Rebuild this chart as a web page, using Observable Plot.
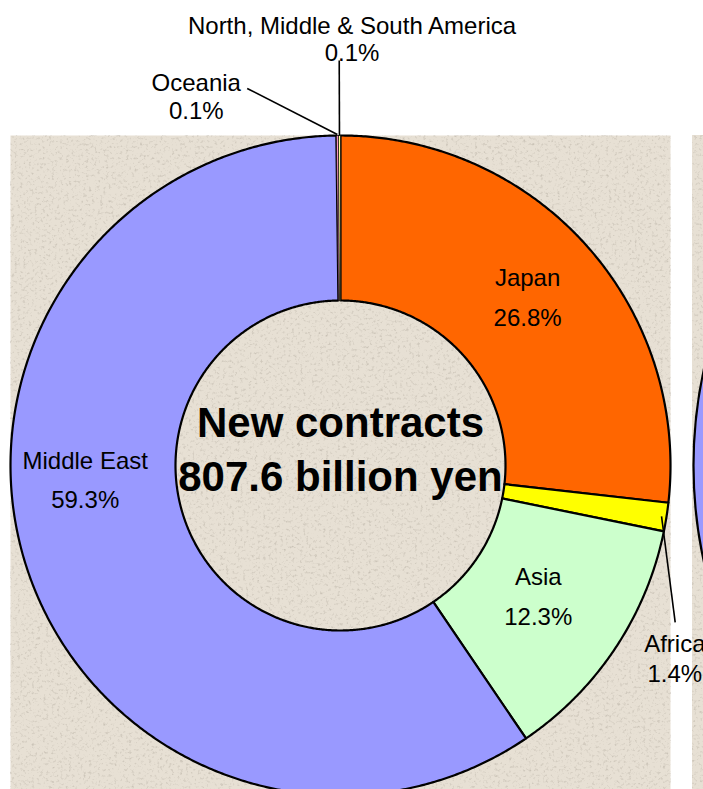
<!DOCTYPE html>
<html>
<head>
<meta charset="utf-8">
<script src="https://cdn.jsdelivr.net/npm/d3@7"></script>
<script src="https://cdn.jsdelivr.net/npm/@observablehq/plot@0.6"></script>
<style>
  html, body { margin: 0; padding: 0; background: #fff; }
  #chart { width: 703px; height: 789px; overflow: hidden; }
</style>
</head>
<body>
<div id="chart"></div>
<script>
// ---------- data ----------
const regions = ["Japan", "Africa", "Asia", "Middle East", "Oceania", "North, Middle & South America"];
const shares = [26.8, 1.4, 12.3, 59.3, 0.1, 0.1];
const shareLabels = ["26.8%", "1.4%", "12.3%", "59.3%", "0.1%", "0.1%"];
const sliceColors = ["#ff6600", "#ffff00", "#ccffcc", "#9999ff", "#ff99cc", "#ffff99"];
const centerLines = ["New contracts", "807.6 billion yen"];

// ---------- layout (unit circle = outer radius) ----------
const PX = 330;                 // pixels per unit (outer radius)
const R_OUT = 1, R_IN = 0.5;
const labelLayout = {
  "Japan":        {r: 0.76, gap: 40},
  "Africa":       {angle: 120.1, r: 1.171, gap: 30, line: {r0: 0.985, angle: 115.1, r: 1.12}},
  "Asia":         {r: 0.72, gap: 40},
  "Middle East":  {angle: 266.6, r: 0.775, gap: 39},
  "Oceania":      {angle: 338.6, r: 1.198, gap: 27.6, line: {r0: 1.003, angle: 346.1, r: 1.177}},
  "North, Middle & South America": {angle: 1.55, r: 1.291, gap: 26.7, line: {r0: 1.0, r: 1.227}}
};
const centerLayout = {y: 0.0456, gap: 53.3};
const Y_MIN = 1 - 654 / PX;     // panel runs from ring top to window bottom

// ---------- geometry from data ----------
const total = d3.sum(shares);
let acc = 0;
const slices = regions.map((region, i) => {
  const a0 = acc / total * 360;
  acc += shares[i];
  const a1 = acc / total * 360;
  return {region, share: shares[i], label: shareLabels[i], a0, a1, mid: (a0 + a1) / 2};
});
const rad = a => a * Math.PI / 180;
const ux = (r, a) => r * Math.sin(rad(a));
const uy = (r, a) => r * Math.cos(rad(a));

const ringOf = list => list.flatMap(s => {
  const n = Math.max(1, Math.ceil((s.a1 - s.a0) / 0.4));
  const angs = d3.range(n + 1).map(k => s.a0 + (s.a1 - s.a0) * k / n);
  const pts = [...angs.map(a => [R_OUT, a]), ...angs.slice().reverse().map(a => [R_IN, a])];
  pts.push(pts[0]);
  return pts.map(([r, a]) => ({region: s.region, x: ux(r, a), y: uy(r, a)}));
});
const bigRing = ringOf(slices.filter(s => s.share >= 1));
const tinyRing = ringOf(slices.filter(s => s.share < 1));

const labels = slices.map(s => {
  const L = labelLayout[s.region];
  const a = L.angle ?? s.mid;
  const cx = ux(L.r, a), cy = uy(L.r, a);
  const h = L.gap / 2 / PX;
  return {name: s.region, pct: s.label, x: cx, yName: cy + h, yPct: cy - h};
});

const leaders = slices.filter(s => labelLayout[s.region].line).map(s => {
  const l = labelLayout[s.region].line;
  const a = l.angle ?? s.mid;
  return {x1: ux(l.r0, s.mid), y1: uy(l.r0, s.mid), x2: ux(l.r, a), y2: uy(l.r, a)};
});

const centerText = centerLines.map((t, i) => ({
  text: t, x: 0, y: centerLayout.y + (i === 0 ? 1 : -1) * centerLayout.gap / 2 / PX
}));

// neighbouring (cut-off) panel on the right
const sidePanel = [{x1: (692 - 340) / PX, x2: 1.2, y1: Y_MIN, y2: 1}];
const sideRing = [{x: (693 + 450 - 340) / PX, y: 0}];

const FONT = "'Liberation Sans', Arial, Helvetica, sans-serif";
const PAPER = "#e7e0d4";

const svg = Plot.plot({
  width: 703,
  height: 789,
  marginLeft: 10,
  marginRight: 33,
  marginTop: 135,
  marginBottom: 0,
  x: {domain: [-1, 1], axis: null},
  y: {domain: [Y_MIN, 1], axis: null},
  color: {domain: regions, range: sliceColors},
  style: {fontFamily: FONT, background: "white", overflow: "hidden", color: "black"},
  marks: [
    Plot.frame({fill: PAPER, stroke: "none"}),
    Plot.rect(sidePanel, {x1: "x1", x2: "x2", y1: "y1", y2: "y2", fill: PAPER}),
    Plot.dot(sideRing, {x: "x", y: "y", r: 450, fill: "#9999ff", stroke: "black", strokeWidth: 2.2}),
    Plot.line(bigRing, {x: "x", y: "y", z: "region", fill: "region", stroke: "black", strokeWidth: 2.2, strokeLinejoin: "round"}),
    Plot.line(tinyRing, {x: "x", y: "y", z: "region", fill: "region", stroke: "black", strokeWidth: 0.7}),
    Plot.link(leaders, {x1: "x1", y1: "y1", x2: "x2", y2: "y2", stroke: "black", strokeWidth: 1.6}),
    Plot.text(labels, {x: "x", y: "yName", text: "name", fontSize: 24, fill: "black", fontFamily: FONT}),
    Plot.text(labels, {x: "x", y: "yPct", text: "pct", fontSize: 24, fill: "black", fontFamily: FONT}),
    Plot.text(centerText, {x: "x", y: "y", text: "text", fontSize: 42, fontWeight: "bold", fill: "black", fontFamily: FONT})
  ]
});

// subtle paper texture
const defs = d3.select(svg).insert("defs", ":first-child");
const f = defs.append("filter").attr("id", "paper")
  .attr("x", 0).attr("y", 0).attr("width", "100%").attr("height", "100%")
  .attr("color-interpolation-filters", "sRGB");
f.append("feTurbulence").attr("type", "fractalNoise").attr("baseFrequency", "0.35")
  .attr("numOctaves", 3).attr("seed", 11).attr("result", "noise");
f.append("feColorMatrix").attr("in", "noise").attr("type", "matrix")
  .attr("values", "0 0 0 0 0.62  0 0 0 0 0.59  0 0 0 0 0.54  1.1 0 0 0 -0.6")
  .attr("result", "specks");
f.append("feComposite").attr("in", "specks").attr("in2", "SourceGraphic").attr("operator", "over");
d3.select(svg).selectAll("[aria-label=frame], g[aria-label=rect] rect").attr("filter", "url(#paper)");

document.getElementById("chart").appendChild(svg);
</script>
</body>
</html>
